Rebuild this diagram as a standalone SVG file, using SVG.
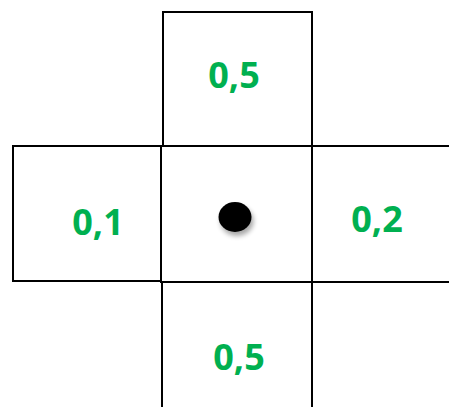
<svg xmlns="http://www.w3.org/2000/svg" width="449" height="407" viewBox="0 0 449 407">
<style>
.box{fill:none;stroke:#000;stroke-width:2}
.lbl{font-family:"Open Sans","Liberation Sans",sans-serif;font-weight:bold;font-size:36px;fill:#00B050;text-anchor:middle}
</style>
<defs>
<filter id="sh" x="-50%" y="-50%" width="200%" height="200%">
<feGaussianBlur in="SourceAlpha" stdDeviation="2.5"/>
<feOffset dx="2" dy="4" result="b"/>
<feComponentTransfer><feFuncA type="linear" slope="0.35"/></feComponentTransfer>
<feMerge><feMergeNode/><feMergeNode in="SourceGraphic"/></feMerge>
</filter>
</defs>
<rect width="449" height="407" fill="#fff"/>
<g id="top"><rect class="box" x="163" y="12" width="149" height="134"/><text class="lbl" x="234" y="88">0,5</text></g>
<g id="left"><rect class="box" x="13" y="146" width="148" height="135"/><text class="lbl" x="98" y="235">0,1</text></g>
<g id="center"><rect class="box" x="161" y="146" width="151" height="136"/><ellipse cx="235" cy="217" rx="16.5" ry="15" fill="#000" filter="url(#sh)"/></g>
<g id="right"><rect class="box" x="312" y="146" width="150" height="136"/><text class="lbl" x="377" y="232">0,2</text></g>
<g id="bottom"><rect class="box" x="162" y="282" width="150" height="140"/><text class="lbl" x="239" y="370">0,5</text></g>
<g id="connectors"/>
</svg>
